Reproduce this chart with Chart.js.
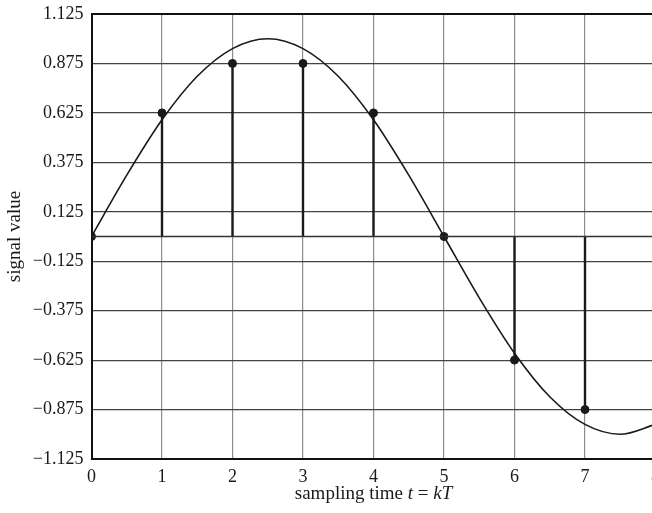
<!DOCTYPE html>
<html>
<head>
<meta charset="utf-8">
<script src="https://cdn.jsdelivr.net/npm/chart.js@4/dist/chart.umd.min.js"></script>
<style>
  html, body { margin: 0; padding: 0; background: #fff; overflow: hidden; }
  canvas { display: block; }
</style>
</head>
<body>
<canvas id="signal-chart" width="667" height="513"></canvas>
<script>
// sampling instants k and the sampled (quantised) values
var sampleTimes = [0, 1, 2, 3, 4, 5, 6, 7];
var sampleValues = [0, 0.625, 0.875, 0.875, 0.625, 0, -0.625, -0.875];

// continuous signal every 0.5
var curveTimes = [0, 0.5, 1, 1.5, 2, 2.5, 3, 3.5, 4, 4.5, 5, 5.5, 6, 6.5, 7, 7.5, 8];
var curveValues = [0, 0.31, 0.59, 0.81, 0.95, 1.0, 0.95, 0.81, 0.59, 0.31, 0, -0.31, -0.59, -0.81, -0.95, -1.0, -0.95];

var xTicks = [0, 1, 2, 3, 4, 5, 6, 7, 8];
var yTicks = [-1.125, -0.875, -0.625, -0.375, -0.125, 0.125, 0.375, 0.625, 0.875, 1.125];
var yTickLabels = ["\u22121.125", "\u22120.875", "\u22120.625", "\u22120.375", "\u22120.125",
                   "0.125", "0.375", "0.625", "0.875", "1.125"];

var serif = "'Liberation Serif', 'Times New Roman', serif";

// stems: (k,0) -> (k,v), broken by a gap after each
var stemPoints = [];
for (var i = 0; i < sampleTimes.length; i++) {
    stemPoints.push({ x: sampleTimes[i], y: 0 });
    stemPoints.push({ x: sampleTimes[i], y: sampleValues[i] });
    stemPoints.push({ x: sampleTimes[i], y: null });
}

// x axis title with italic t and kT
var xTitlePlugin = {
    id: "xTitle",
    afterDraw: function (chart) {
        var ctx = chart.ctx;
        var parts = [
            ["sampling time ", false],
            ["t", true],
            [" = ", false],
            ["kT", true]
        ];
        ctx.save();
        ctx.fillStyle = "#1a1a1a";
        ctx.textBaseline = "alphabetic";
        var total = 0;
        parts.forEach(function (p) {
            ctx.font = (p[1] ? "italic " : "") + "19px " + serif;
            total += ctx.measureText(p[0]).width;
        });
        var area = chart.chartArea;
        var x = (area.left + area.right) / 2 - total / 2;
        parts.forEach(function (p) {
            ctx.font = (p[1] ? "italic " : "") + "19px " + serif;
            ctx.fillText(p[0], x, 499);
            x += ctx.measureText(p[0]).width;
        });
        ctx.restore();
    }
};

var ctx = document.getElementById("signal-chart");

var chart = new Chart(ctx, {
    type: "scatter",
    data: {
        datasets: [
            {
                type: "line",
                label: "signal",
                data: curveTimes.map(function (t, i) { return { x: t, y: curveValues[i] }; }),
                borderColor: "#1a1a1a",
                borderWidth: 1.6,
                pointRadius: 0,
                cubicInterpolationMode: "monotone",
                fill: false
            },
            {
                type: "line",
                label: "zero",
                data: [{ x: 0, y: 0 }, { x: 8, y: 0 }],
                borderColor: "#333",
                borderWidth: 1.3,
                pointRadius: 0,
                fill: false
            },
            {
                type: "line",
                label: "stems",
                data: stemPoints,
                borderColor: "#1a1a1a",
                borderWidth: 2.4,
                pointRadius: 0,
                spanGaps: false,
                fill: false
            },
            {
                type: "scatter",
                label: "samples",
                data: sampleTimes.map(function (t, i) { return { x: t, y: sampleValues[i] }; }),
                backgroundColor: "#1a1a1a",
                borderColor: "#1a1a1a",
                pointRadius: 4,
                pointHoverRadius: 4
            }
        ]
    },
    options: {
        responsive: false,
        animation: false,
        layout: { padding: { top: 14, right: 5, left: 0, bottom: 0 } },
        plugins: {
            legend: { display: false },
            tooltip: { enabled: false }
        },
        scales: {
            x: {
                type: "linear",
                min: 0,
                max: 8,
                afterBuildTicks: function (scale) {
                    scale.ticks = xTicks.map(function (v) { return { value: v }; });
                },
                afterFit: function (scale) { scale.height = 54; },
                grid: {
                    drawTicks: false,
                    color: function (c) { return c.index === xTicks.length - 1 ? "#111" : "#8c8c8c"; },
                    lineWidth: function (c) { return c.index === xTicks.length - 1 ? 2 : 1.2; }
                },
                border: { color: "#111", width: 2 },
                ticks: {
                    padding: 7,
                    color: "#1a1a1a",
                    maxRotation: 0,
                    font: { family: serif, size: 18 }
                }
            },
            y: {
                type: "linear",
                min: -1.125,
                max: 1.125,
                afterBuildTicks: function (scale) {
                    scale.ticks = yTicks.map(function (v) { return { value: v }; });
                },
                afterFit: function (scale) {
                    scale.width = 91.5;
                    scale.paddingTop = 0;
                    scale.paddingBottom = 0;
                },
                grid: {
                    drawTicks: false,
                    color: function (c) { return c.index === yTicks.length - 1 ? "#111" : "#444"; },
                    lineWidth: function (c) { return c.index === yTicks.length - 1 ? 2 : 1.2; }
                },
                border: { color: "#111", width: 2 },
                ticks: {
                    padding: 8,
                    color: "#1a1a1a",
                    font: { family: serif, size: 18 },
                    callback: function (value, index) { return yTickLabels[index]; }
                },
                title: {
                    display: true,
                    text: "signal value",
                    color: "#1a1a1a",
                    font: { family: serif, size: 19 },
                    padding: { top: 4, bottom: 0 }
                }
            }
        }
    },
    plugins: [xTitlePlugin]
});
</script>
</body>
</html>
